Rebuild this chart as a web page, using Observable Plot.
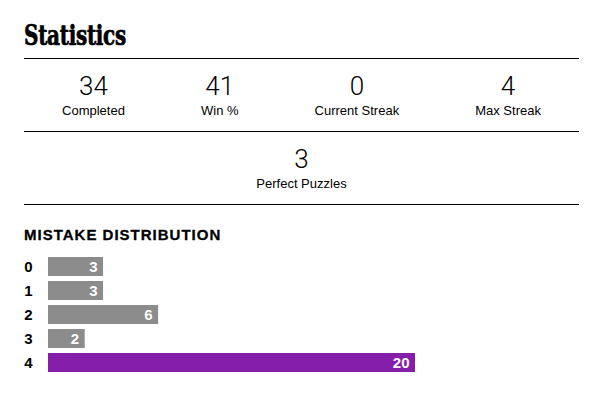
<!DOCTYPE html>
<html>
<head>
<meta charset="utf-8">
<script src="https://cdn.jsdelivr.net/npm/d3@7"></script>
<script src="https://cdn.jsdelivr.net/npm/@observablehq/plot@0.6"></script>
<style>
  html, body { margin: 0; padding: 0; background: #fff; }
  #wrap { position: relative; width: 597px; height: 395px; overflow: hidden; color: #000; }
  .abs { position: absolute; }
  #title { left: 24px; top: 22px; font-family: "DejaVu Serif", serif; font-weight: 700; font-size: 27px; line-height: 27px; letter-spacing: -0.4px; white-space: nowrap; -webkit-text-stroke: 0.7px #000; transform: scaleX(0.74); transform-origin: 0 0; }
  .rule { left: 24px; width: 555px; height: 1px; background: #000; }
  .row { left: 24px; width: 555px; display: flex; justify-content: space-around; }
  .item { text-align: center; }
  .num { font-family: Roboto, "Open Sans", sans-serif; font-weight: 300; font-size: 26px; line-height: 26px; height: 26px; }
  .lab { font-family: "Liberation Sans", Arial, sans-serif; font-size: 13px; line-height: 13px; margin-top: 5px; white-space: nowrap; }
  #heading { left: 24px; top: 227px; font-family: "Liberation Sans", Arial, sans-serif; font-weight: 700; font-size: 15px; line-height: 15px; letter-spacing: 1px; white-space: nowrap; -webkit-text-stroke: 0.3px #000; }
  #chart { left: 0; top: 250px; }
</style>
</head>
<body>
<div id="wrap">
  <div id="title" class="abs"></div>
  <div class="abs rule" style="top:58px"></div>
  <div id="row1" class="abs row" style="top:73px"></div>
  <div class="abs rule" style="top:131px"></div>
  <div id="row2" class="abs row" style="top:146px"></div>
  <div class="abs rule" style="top:204px"></div>
  <div id="heading" class="abs"></div>
  <div id="chart" class="abs"></div>
</div>
<script>
// ---- data ----
const titleText = "Statistics";
const statValues = [34, 41, 0, 4];
const statLabels = ["Completed", "Win %", "Current Streak", "Max Streak"];
const perfectValues = [3];
const perfectLabels = ["Perfect Puzzles"];
const headingText = "MISTAKE DISTRIBUTION";
const mistakes = ["0", "1", "2", "3", "4"];
const counts = [3, 3, 6, 2, 20];
const highlighted = "4";

// ---- header ----
document.getElementById("title").textContent = titleText;
document.getElementById("heading").textContent = headingText;

function fillRow(el, values, labels) {
  values.forEach((v, i) => {
    const item = document.createElement("div");
    item.className = "item";
    const n = document.createElement("div");
    n.className = "num";
    n.textContent = String(v);
    const l = document.createElement("div");
    l.className = "lab";
    l.textContent = labels[i];
    item.appendChild(n);
    item.appendChild(l);
    el.appendChild(item);
  });
}
fillRow(document.getElementById("row1"), statValues, statLabels);
fillRow(document.getElementById("row2"), perfectValues, perfectLabels);

// ---- chart ----
const data = mistakes.map((m, i) => ({mistake: m, count: counts[i]}));

const chart = Plot.plot({
  width: 597,
  height: 130,
  marginLeft: 48,
  marginRight: 182,
  marginTop: 2.65,
  marginBottom: 3.6,
  style: {fontFamily: "'Liberation Sans', Arial, sans-serif", fontSize: "15px", fontWeight: "bold", color: "#000", background: "transparent", overflow: "visible"},
  x: {domain: [0, 20], axis: null},
  y: {domain: mistakes, paddingInner: 0.19, paddingOuter: 0.095, label: null},
  marks: [
    Plot.axisY({tickSize: 0, tickPadding: 16, fontWeight: "bold", fontSize: 15, fill: "#000", stroke: "#000", strokeWidth: 0.3}),
    Plot.barX(data, {
      y: "mistake",
      x: "count",
      fill: d => d.mistake === highlighted ? "#851ea9" : "#8c8c8c"
    }),
    Plot.text(data, {
      y: "mistake",
      x: "count",
      text: d => String(d.count),
      textAnchor: "end",
      dx: -6,
      fill: "#fff",
      fontWeight: "bold",
      fontSize: 15
    })
  ]
});
document.getElementById("chart").appendChild(chart);
</script>
</body>
</html>
